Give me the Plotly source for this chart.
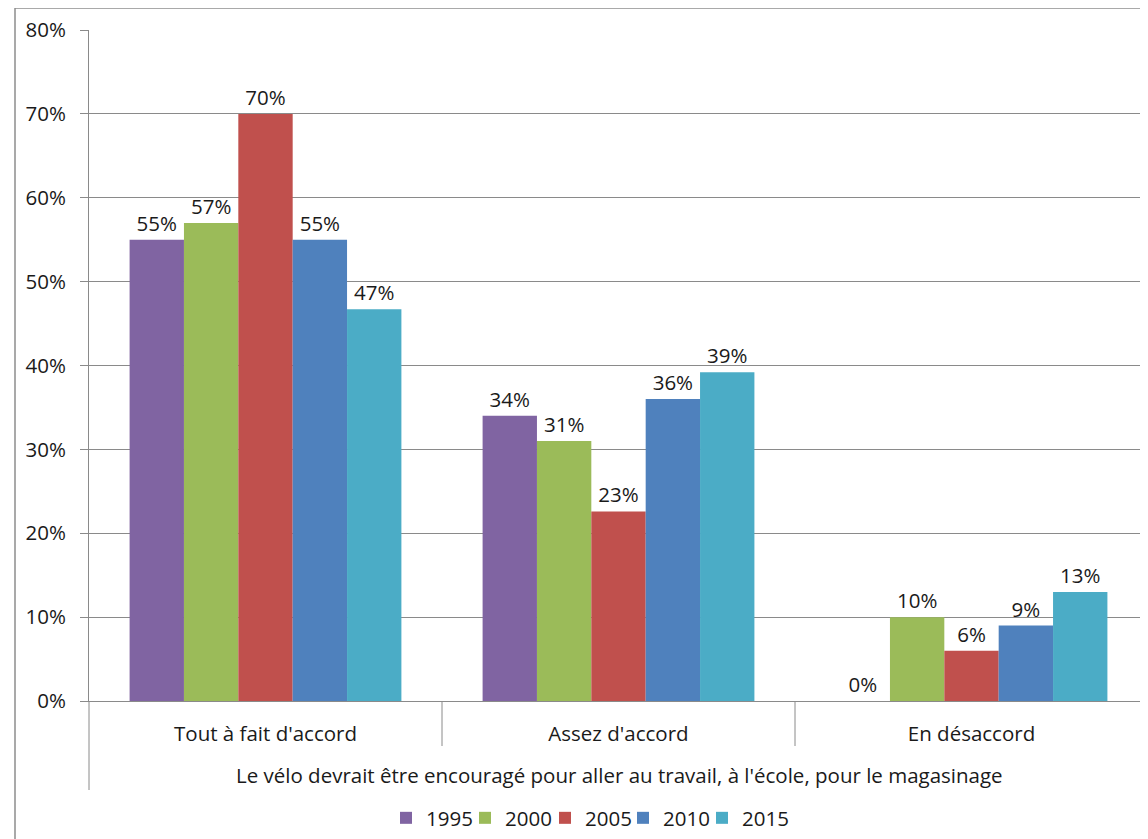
import plotly.graph_objects as go

categories = ["Tout à fait d'accord", "Assez d'accord", "En désaccord"]
years = ["1995", "2000", "2005", "2010", "2015"]
v1995 = [0.55, 0.34, 0.0]
v2000 = [0.57, 0.31, 0.10]
v2005 = [0.70, 0.226, 0.06]
v2010 = [0.55, 0.36, 0.09]
v2015 = [0.467, 0.392, 0.13]
colors = ["#8064A2", "#9BBB59", "#C0504D", "#4F81BD", "#4BACC6"]
axis_title = "Le vélo devrait être encouragé pour aller au travail, à l'école, pour le magasinage"
yticks = [0, 0.1, 0.2, 0.3, 0.4, 0.5, 0.6, 0.7, 0.8]

FONT = "Open Sans"
FS = 20.5
TXT = "#1a1a1a"
GRID = "#8a8a8a"

# page has an 8px body margin; work in page coordinates
OFF = 8
W, H = 1148 - OFF, 839 - OFF
PLOT_L, PLOT_T, PLOT_B = 89, 30, 701  # page px
L, T = PLOT_L - OFF, PLOT_T - OFF
B = H - (PLOT_B - OFF)
R = 0
plot_h = PLOT_B - PLOT_T
plot_w = W - L - R

def py(ypix):
    return (PLOT_B - ypix) / plot_h

def px(xpix):
    return (xpix - PLOT_L) / plot_w

legend_sq_centers = [406, 485, 565, 643, 722]  # page px, one legend box per year
legend_names = ["legend", "legend2", "legend3", "legend4", "legend5"]

fig = go.Figure()
for name, vals, col, lg in zip(years, [v1995, v2000, v2005, v2010, v2015], colors, legend_names):
    fig.add_trace(go.Bar(
        x=categories, y=vals, name=name, marker=dict(color=col, line=dict(width=0)),
        texttemplate="%{y:.0%}", textposition="outside", cliponaxis=False,
        textfont=dict(family=FONT, size=FS, color=TXT), legend=lg,
    ))

legend_layouts = {}
for lg, cx in zip(legend_names, legend_sq_centers):
    legend_layouts[lg] = dict(orientation="h", x=px(cx - 20), xanchor="left",
                              y=py(818), yanchor="middle", bgcolor="rgba(0,0,0,0)",
                              font=dict(family=FONT, size=FS, color=TXT), itemwidth=30)

fig.update_layout(
    width=W, height=H,
    margin=dict(l=L, r=R, t=T, b=B, pad=0),
    paper_bgcolor="white", plot_bgcolor="white",
    barmode="group", bargap=0.23, bargroupgap=0,
    font=dict(family=FONT, size=FS, color=TXT),
    showlegend=True,
    xaxis=dict(showgrid=False, showline=True, linecolor=GRID, linewidth=1,
               ticks="", ticklabelstandoff=14, tickfont=dict(family=FONT, size=FS, color=TXT),
               fixedrange=True),
    yaxis=dict(range=[0, 0.8], tickvals=yticks, tickformat=".0%",
               showgrid=True, gridcolor=GRID, gridwidth=1,
               showline=True, linecolor=GRID, linewidth=1,
               ticks="outside", ticklen=8, tickcolor=GRID, ticklabelstandoff=10,
               zeroline=True, zerolinecolor=GRID, zerolinewidth=1,
               tickfont=dict(family=FONT, size=FS, color=TXT), fixedrange=True),
    **legend_layouts,
)

# category dividers (multi-level axis look)
for xb in [0.5, 1.5]:
    fig.add_shape(type="line", xref="x", yref="paper", x0=xb, x1=xb, y0=0, y1=py(746),
                  line=dict(color=GRID, width=1))
fig.add_shape(type="line", xref="paper", yref="paper", x0=0, x1=0, y0=0, y1=py(790),
              line=dict(color=GRID, width=1))

# outer chart border
bx = px(15)
fig.add_shape(type="line", xref="paper", yref="paper", x0=bx, x1=bx, y0=py(8), y1=py(860),
              line=dict(color="#8c8c8c", width=1.5))
fig.add_shape(type="line", xref="paper", yref="paper", x0=bx, x1=1.05, y0=py(8), y1=py(8),
              line=dict(color="#8c8c8c", width=1.5))

fig.add_annotation(text=axis_title, xref="paper", yref="paper", x=px(619), y=py(775),
                   xanchor="center", yanchor="middle", showarrow=False,
                   font=dict(family=FONT, size=FS, color=TXT))

fig.write_html("out.html")
